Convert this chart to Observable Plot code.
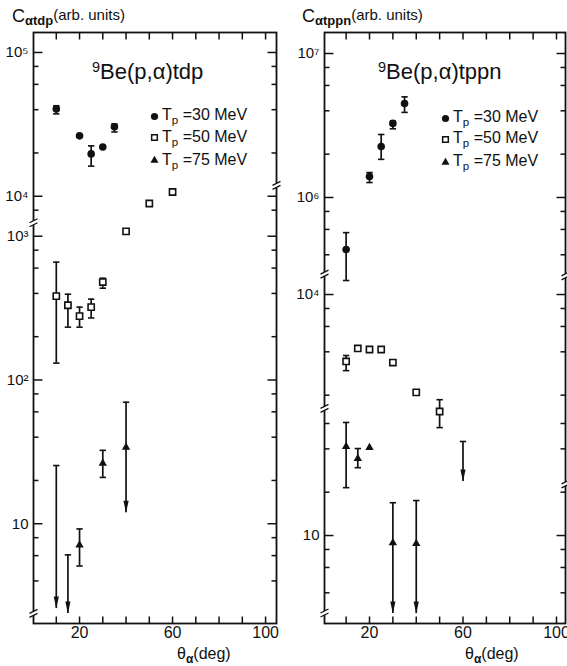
<!DOCTYPE html>
<html><head><meta charset="utf-8">
<script src="https://cdn.jsdelivr.net/npm/d3@7"></script>
<script src="https://cdn.jsdelivr.net/npm/@observablehq/plot@0.6"></script>
<style>
html,body{margin:0;padding:0;background:#fff;}
#wrap{position:relative;width:567px;height:666px;overflow:hidden;font-family:"Liberation Sans",Arial,sans-serif;color:#111;}
#wrap svg{position:absolute;top:0;overflow:visible;}
.lbl{position:absolute;white-space:nowrap;line-height:1;color:#111;}
.lbl span{color:#111;}
.sb{position:relative;font-size:0.72em;top:0.32em;}
.sp{position:relative;font-size:0.66em;top:-0.5em;}
</style></head><body><div id="wrap"></div>
<script>
// ---------- shared axis values ----------
const xTickValues = [10, 20, 30, 40, 50, 60, 70, 80, 90, 100];
const xTickLabels = [20, 60, 100];
const legendEnergies = ["30", "50", "75"];

// ---------- left panel: 9Be(p,α)tdp ----------
const tdpAngles30 = [10, 20, 25, 30, 35];
const tdpValues30 = [4.05e4, 2.63e4, 1.97e4, 2.2e4, 3.04e4];
const tdpLow30    = [3.74e4, null, 1.62e4, null, 2.8e4];
const tdpHigh30   = [4.26e4, null, 2.24e4, null, 3.18e4];

const tdpAngles50 = [10, 15, 20, 25, 30, 40, 50, 60];
const tdpValues50 = [383, 331, 278, 321, 480, 1080, 8900, 10700];
const tdpLow50    = [131, 233, 233, 270, 435, null, null, null];
const tdpHigh50   = [660, 395, 321, 365, 510, null, null, null];

const tdpAngles75 = [10, 15, 20, 30, 40];
const tdpValues75 = [null, null, 7.1, 26.3, 34];
const tdpLow75    = [null, null, 5.08, 21, null];
const tdpHigh75   = [25.4, 6.07, 9.2, 32.4, 70];
const tdpLimit75  = [2.57, 2.37, null, null, 11.9];

const tdpMajorTicks  = [10, 1e2, 1e3, 1e4, 1e5];
const tdpMajorLabels = ["10", "10²", "10³", "10⁴", "10⁵"];
const tdpMinorTicks  = [4, 6, 8, 20, 40, 60, 80, 200, 400, 600, 800, 8e3, 2e4, 4e4, 6e4, 8e4];
const tdpSegments    = [[0.306, 3.097], [3.819, 5.139]]; // log10 ranges of the broken axis
const tdpBreaksLeft  = [2.4, 1250];
const tdpBreaksRight = [1.2e4];

// ---------- right panel: 9Be(p,α)tppn ----------
const tppnAngles30 = [10, 20, 25, 30, 35];
const tppnValues30 = [4.35e5, 1.4e6, 2.26e6, 3.27e6, 4.5e6];
const tppnLow30    = [2.65e5, 1.27e6, 1.84e6, 3.0e6, 3.9e6];
const tppnHigh30   = [5.7e5, 1.49e6, 2.74e6, 3.38e6, 5.0e6];

const tppnAngles50 = [10, 15, 20, 25, 30, 40, 50];
const tppnValues50 = [3430, 4220, 4150, 4150, 3370, 2090, 1540];
const tppnLow50    = [2960, null, null, null, null, null, 1190];
const tppnHigh50   = [3770, null, null, null, null, null, 1860];

const tppnAngles75 = [10, 15, 20, 30, 40, 60];
const tppnValues75 = [41.5, 34.3, 40.8, 8.9, 8.8, null];
const tppnLow75    = [21.5, 29.6, null, null, null, null];
const tppnHigh75   = [61, 40.2, null, 16.9, 17.5, 45];
const tppnLimit75  = [null, null, null, 2.87, 2.87, 23.7];

const tppnMajorTicks  = [10, 1e4, 1e6, 1e7];
const tppnMajorLabels = ["10", "10⁴", "10⁶", "10⁷"];
const tppnMinorTicks  = [4, 6, 8, 20, 40, 60, 2e3, 4e3, 6e3, 8e3, 4e5, 6e5, 8e5, 2e6, 4e6, 6e6, 8e6];
const tppnSegments    = [[0.389, 1.889], [3.215, 4.146], [5.472, 7.146]];
const tppnBreaksLeft  = [2.92, 77, 2.96e5];
const tppnBreaksRight = [23, 1.36e4];

// ---------- helpers ----------
function brokenLog(segments) {
  const gaps = [0];
  for (let i = 1; i < segments.length; i++) gaps.push(gaps[i - 1] + segments[i][0] - segments[i - 1][1]);
  const thresholds = segments.slice(1).map((s, i) => (segments[i][1] + s[0]) / 2);
  const f = v => {
    const l = Math.log10(v);
    let k = 0;
    while (k < thresholds.length && l >= thresholds[k]) k++;
    return l - gaps[k];
  };
  f.domain = [segments[0][0], segments[segments.length - 1][1] - gaps[gaps.length - 1]];
  return f;
}
function rows(angles, values, low, high, limit) {
  return angles.map((a, i) => ({a, v: values[i], lo: low ? low[i] : null, hi: high ? high[i] : null, end: limit ? limit[i] : null}));
}
const line = (x1, y1, x2, y2) => ({draw(c) { c.moveTo(x1, y1); c.lineTo(x2, y2); }});
const sym = {
  tickUp: line(0, 0, 0, -7), tickDown: line(0, 0, 0, 7),
  majR: line(0, 0, 9, 0), majL: line(0, 0, -9, 0),
  minR: line(0, 0, 5, 0), minL: line(0, 0, -5, 0),
  cap: line(-3.2, 0, 3.2, 0),
  head: {draw(c) { c.moveTo(0, 0); c.lineTo(-2.6, -12); c.lineTo(2.6, -12); c.closePath(); }},
  gap: {draw(c) { c.moveTo(-4, 0.5); c.lineTo(4, -3.5); c.lineTo(4, 0.5); c.lineTo(-4, 4.5); c.closePath(); }},
  slash: {draw(c) { c.moveTo(-4, 0.5); c.lineTo(4, -3.5); c.moveTo(-4, 4.5); c.lineTo(4, 0.5); }}
};

function panel(cfg) {
  const Y = brokenLog(cfg.segments);
  const all = [...cfg.s30, ...cfg.s50, ...cfg.s75];
  const errs = all.filter(d => d.lo != null && d.hi != null);
  const lims = all.filter(d => d.end != null);
  const caps = all.flatMap(d => [d.lo, d.hi].filter(v => v != null).map(v => ({a: d.a, v})));
  const K = {stroke: "#111", fill: "none"};
  return Plot.plot({
    width: cfg.width, height: 666,
    marginLeft: cfg.marginLeft, marginRight: cfg.marginRight, marginTop: 32, marginBottom: 43,
    x: {domain: cfg.xDomain, axis: null},
    y: {domain: Y.domain, axis: null},
    style: {fontFamily: "'Liberation Sans', Arial, sans-serif", fontSize: "15px", background: "none", color: "#111", overflow: "visible"},
    marks: [
      Plot.frame({stroke: "#111", strokeWidth: 1.8}),
      Plot.dot(xTickValues, {x: d => d, frameAnchor: "bottom", symbol: sym.tickUp, ...K, strokeWidth: 1.5}),
      Plot.dot(xTickValues, {x: d => d, frameAnchor: "top", symbol: sym.tickDown, ...K, strokeWidth: 1.5}),
      Plot.text(xTickLabels, {x: d => d, frameAnchor: "bottom", dy: 14, text: d => String(d), fontSize: 16, fill: "#111"}),
      Plot.dot(cfg.major, {y: d => Y(d), frameAnchor: "left", symbol: sym.majR, ...K, strokeWidth: 1.5}),
      Plot.dot(cfg.major, {y: d => Y(d), frameAnchor: "right", symbol: sym.majL, ...K, strokeWidth: 1.5}),
      Plot.dot(cfg.minor, {y: d => Y(d), frameAnchor: "left", symbol: sym.minR, ...K, strokeWidth: 1.5}),
      Plot.dot(cfg.minor, {y: d => Y(d), frameAnchor: "right", symbol: sym.minL, ...K, strokeWidth: 1.5}),
      Plot.text(cfg.major, {y: d => Y(d), frameAnchor: "left", dx: -5, textAnchor: "end", lineAnchor: "middle",
        text: (d, i) => cfg.majorLabels[i], fill: "#111"}),
      Plot.dot(cfg.breaksLeft, {y: d => Y(d), frameAnchor: "left", symbol: sym.gap, fill: "white", stroke: "none"}),
      Plot.dot(cfg.breaksLeft, {y: d => Y(d), frameAnchor: "left", symbol: sym.slash, ...K, strokeWidth: 1.3}),
      Plot.dot(cfg.breaksRight, {y: d => Y(d), frameAnchor: "right", symbol: sym.gap, fill: "white", stroke: "none"}),
      Plot.dot(cfg.breaksRight, {y: d => Y(d), frameAnchor: "right", symbol: sym.slash, ...K, strokeWidth: 1.3}),
      // error bars and upper limits
      Plot.ruleX(errs, {x: "a", y1: d => Y(d.lo), y2: d => Y(d.hi), stroke: "#111", strokeWidth: 1.7}),
      Plot.ruleX(lims, {x: "a", y1: d => Y(d.hi), y2: d => Y(d.end), stroke: "#111", strokeWidth: 1.7}),
      Plot.dot(caps, {x: "a", y: d => Y(d.v), symbol: sym.cap, ...K, strokeWidth: 1.6}),
      Plot.dot(lims, {x: "a", y: d => Y(d.end), symbol: sym.head, fill: "#111", stroke: "none"}),
      // data points
      Plot.dot(cfg.s30.filter(d => d.v != null), {x: "a", y: d => Y(d.v), symbol: "circle", r: 3.8, fill: "#111", stroke: "none"}),
      Plot.dot(cfg.s50.filter(d => d.v != null), {x: "a", y: d => Y(d.v), symbol: "square", r: 3.5, fill: "white", stroke: "#111", strokeWidth: 1.6}),
      Plot.dot(cfg.s75.filter(d => d.v != null), {x: "a", y: d => Y(d.v), symbol: "triangle", r: 3.1, fill: "#111", stroke: "none"}),
      // legend symbols
      Plot.dot([0], {frameAnchor: "top-left", dx: cfg.legendX, dy: cfg.legendY[0], symbol: "circle", r: 3.6, fill: "#111", stroke: "none"}),
      Plot.dot([0], {frameAnchor: "top-left", dx: cfg.legendX, dy: cfg.legendY[1], symbol: "square", r: 3.2, fill: "white", stroke: "#111", strokeWidth: 1.5}),
      Plot.dot([0], {frameAnchor: "top-left", dx: cfg.legendX, dy: cfg.legendY[2], symbol: "triangle", r: 3.0, fill: "#111", stroke: "none"})
    ]
  });
}

const wrap = document.getElementById("wrap");

const left = panel({
  width: 283, marginLeft: 33, marginRight: 7, xDomain: [0.2, 104.7],
  segments: tdpSegments, major: tdpMajorTicks, majorLabels: tdpMajorLabels, minor: tdpMinorTicks,
  breaksLeft: tdpBreaksLeft, breaksRight: tdpBreaksRight,
  s30: rows(tdpAngles30, tdpValues30, tdpLow30, tdpHigh30),
  s50: rows(tdpAngles50, tdpValues50, tdpLow50, tdpHigh50),
  s75: rows(tdpAngles75, tdpValues75, tdpLow75, tdpHigh75, tdpLimit75),
  legendX: 121, legendY: [84, 105, 128]
});
left.style.left = "0px";
wrap.appendChild(left);

const right = panel({
  width: 284, marginLeft: 41, marginRight: 2, xDomain: [0.75, 103.85],
  segments: tppnSegments, major: tppnMajorTicks, majorLabels: tppnMajorLabels, minor: tppnMinorTicks,
  breaksLeft: tppnBreaksLeft, breaksRight: tppnBreaksRight,
  s30: rows(tppnAngles30, tppnValues30, tppnLow30, tppnHigh30),
  s50: rows(tppnAngles50, tppnValues50, tppnLow50, tppnHigh50),
  s75: rows(tppnAngles75, tppnValues75, tppnLow75, tppnHigh75, tppnLimit75),
  legendX: 121, legendY: [86, 107, 130]
});
right.style.left = "283px";
wrap.appendChild(right);

// ---------- text overlays (titles, axis labels, legend labels) ----------
function addLabel(html, left, top, size) {
  const d = document.createElement("div");
  d.className = "lbl";
  d.style.left = left + "px"; d.style.top = top + "px"; d.style.fontSize = size + "px";
  d.innerHTML = html;
  wrap.appendChild(d);
}
const yTitle = sub => `C<span style="font-size:13px;font-weight:bold;position:relative;top:3px">${sub}</span><span style="font-size:15px;position:relative;top:-2px">(arb. units)</span>`;
addLabel(yTitle("αtdp"), 12, 7, 18);
addLabel(yTitle("αtppn"), 302, 7, 18);
const xTitle = `θ<span style="font-size:12px;font-weight:bold;position:relative;top:4px">α</span>(deg)`;
addLabel(xTitle, 177, 646, 16);
addLabel(xTitle, 465, 646, 16);
addLabel(`<span class="sp">9</span>Be(p,α)tdp`, 92, 61, 22);
addLabel(`<span class="sp">9</span>Be(p,α)tppn`, 378, 61, 22);
const legendTops = {left: [107, 129, 152], right: [109, 130, 153]};
legendEnergies.forEach((e, i) => {
  const t = `T<span class="sb">p</span> =${e} MeV`;
  addLabel(t, 162, legendTops.left[i], 16);
  addLabel(t, 453, legendTops.right[i], 16);
});
</script>
</body></html>
